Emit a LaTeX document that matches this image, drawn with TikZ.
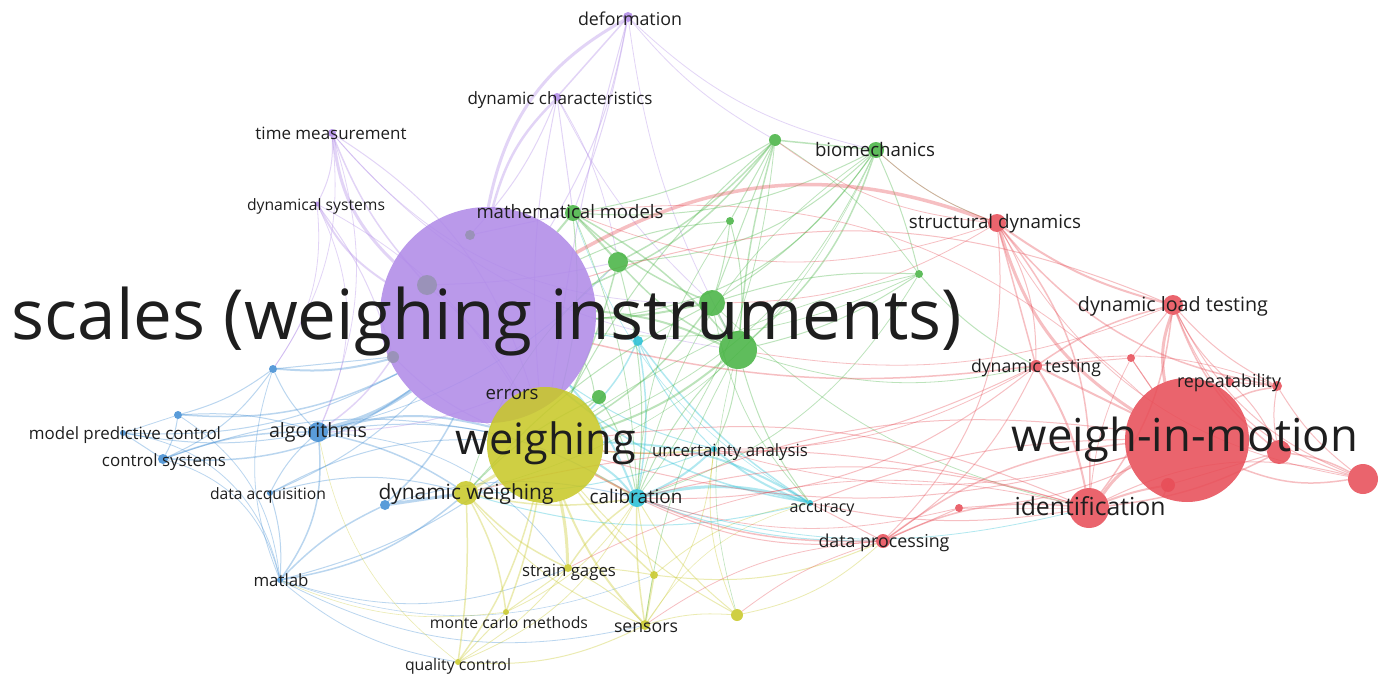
\documentclass[tikz,border=0pt]{standalone}
\usepackage{fontspec}
\setmainfont{Open Sans}
\usepackage{graphicx}
\definecolor{vp}{RGB}{176,138,232}
\definecolor{vy}{RGB}{200,200,40}
\definecolor{vg}{RGB}{72,180,68}
\definecolor{vc}{RGB}{40,192,214}
\definecolor{vb}{RGB}{66,142,212}
\definecolor{vr}{RGB}{232,78,88}
\definecolor{vgr}{RGB}{150,146,178}
\definecolor{txt}{RGB}{30,30,30}
\pgfdeclarelayer{bg}
\pgfdeclarelayer{edges}
\pgfsetlayers{bg,edges,main}
\newcommand{\vnode}[5]{\node[dot=#5,minimum size=#4pt] (#1) at (#2,#3) {};}
\newcommand{\vlabel}[5]{\node[lbl] (#1) at (#2,#3) {\resizebox{#4pt}{!}{\vphantom{dg}#5}};}
\begin{document}
\begin{tikzpicture}[x=1pt,y=-1pt,
  dot/.style={circle,inner sep=0pt,outer sep=0pt,fill=#1,draw=none,fill opacity=.87},
  lbl/.style={inner sep=0pt,text=txt,yshift=-2pt},
  ed/.style={draw=#1,opacity=.36}]
\begin{pgfonlayer}{bg}
\fill[white] (0,0) rectangle (1384,677);
\end{pgfonlayer}
\useasboundingbox (0,0) rectangle (1384,677);
% ---- purple cluster
\vnode{sc}{488}{315}{216}{vp}
\vnode{def}{628}{17}{10}{vp}
\vnode{dc}{557}{97}{8}{vp}
\vnode{tm}{332}{133}{8}{vp}
\vnode{ds}{317}{204}{5}{vp}
\vnode{gr1}{470}{235}{10}{vgr}
\vnode{gr2}{427}{285}{20}{vgr}
\vnode{gr3}{393}{357}{12}{vgr}
\vnode{err}{512}{393}{6}{vp}
% ---- yellow cluster
\vnode{wg}{545}{445}{116}{vy}
\vnode{dw}{466}{493}{24}{vy}
\vnode{sg}{568}{568}{8}{vy}
\vnode{mc}{506}{612}{6}{vy}
\vnode{sen}{645}{625}{10}{vy}
\vnode{qc}{458}{662}{6}{vy}
\vnode{y1}{654}{575}{8}{vy}
\vnode{y2}{737}{615}{12}{vy}
% ---- green cluster
\vnode{mm}{573}{213}{16}{vg}
\vnode{bio}{876}{150}{16}{vg}
\vnode{g1}{775}{140}{12}{vg}
\vnode{g2}{730}{221}{8}{vg}
\vnode{g3}{618}{262}{20}{vg}
\vnode{g4}{712}{303}{26}{vg}
\vnode{g5}{738}{350}{38}{vg}
\vnode{g6}{919}{274}{8}{vg}
\vnode{g7}{599}{397}{14}{vg}
% ---- cyan cluster
\vnode{cal}{637}{498}{18}{vc}
\vnode{c1}{638}{341}{10}{vc}
\vnode{unc}{714}{449}{6}{vc}
\vnode{acc}{810}{503}{6}{vc}
% ---- blue cluster
\vnode{alg}{318}{432}{20}{vb}
\vnode{mpc}{123}{433}{6}{vb}
\vnode{cs}{163}{459}{10}{vb}
\vnode{da}{270}{493}{6}{vb}
\vnode{mat}{280}{580}{6}{vb}
\vnode{b1}{273}{369}{8}{vb}
\vnode{b2}{178}{415}{8}{vb}
\vnode{b3}{385}{505}{10}{vb}
% ---- red cluster
\vnode{wim}{1187}{440}{124}{vr}
\vnode{id}{1089}{508}{40}{vr}
\vnode{sd}{997}{223}{18}{vr}
\vnode{dlt}{1173}{305}{20}{vr}
\vnode{dt}{1036}{366}{12}{vr}
\vnode{rep}{1230}{382}{8}{vr}
\vnode{r1}{1277}{386}{10}{vr}
\vnode{r2}{1131}{358}{8}{vr}
\vnode{r3}{1279}{452}{24}{vr}
\vnode{r4}{1363}{479}{30}{vr}
\vnode{r5}{1168}{485}{14}{vr}
\vnode{dp}{883}{541}{14}{vr}
\vnode{r6}{959}{508}{8}{vr}
% ---- edges
\begin{pgfonlayer}{edges}
\foreach \a/\b/\w/\bb in {def/sc/3/-25,def/dc/1.5/0,def/sc/1/10,def/wg/1/-4,def/g5/0.8/-10,def/bio/0.8/-15,
  dc/sc/2.5/-15,dc/wg/1/-8,dc/gr1/1/10,dc/g3/0.8/10,tm/sc/3/-20,tm/ds/1/15,tm/gr2/1.5/-10,tm/wg/1/20,
  tm/g5/0.8/-20,tm/alg/0.8/20,ds/sc/2/-15,ds/gr3/1/10,ds/wg/0.8/15,err/alg/1/10,gr2/wg/1/10,
  tm/g4/0.8/-25,dc/mm/1/0,dc/g4/0.8/-10,def/g1/0.8/-10,def/mm/1/5,tm/b1/0.8/20,ds/b1/0.8/20,ds/alg/0.8/25,
  gr1/mm/1/0,gr2/g3/1/-5,gr3/alg/1.5/10,gr3/wg/1/-10,err/wg/1/0}
  {\draw[ed=vp,line width=\w pt] (\a) to[bend left=\bb] (\b);}
\foreach \a/\b/\w/\bb in {alg/sc/3.5/-10,alg/wg/2/15,alg/mpc/1/10,alg/cs/1.5/-10,alg/da/1/-10,alg/mat/1.5/20,
  alg/dw/1.5/10,alg/b1/1/10,alg/b2/1/-10,b1/sc/2/-10,b1/cs/1/15,b1/b2/1/10,b1/mat/0.8/-20,b2/cs/1/10,
  b2/sc/1.5/-15,b2/mpc/0.8/0,mpc/cs/1/0,mpc/sc/1/-15,cs/sc/1.5/-20,cs/wg/1/15,cs/mat/0.8/30,da/mat/1/10,
  da/dw/1/15,da/sc/1/-10,mat/dw/1.5/-15,mat/b3/1.5/10,mat/sg/0.8/-20,mat/wg/1/-10,b3/dw/3/0,b3/sc/1.5/-10,
  b3/cal/1/15,mpc/mat/0.8/35,alg/cal/1/20,alg/sg/0.8/25,mat/sen/0.8/-20,mat/qc/0.8/-15,da/wg/1/15,
  b2/mat/0.8/25,alg/g3/0.8/-15,b1/gr3/1/0,mat/y1/0.6/-20}
  {\draw[ed=vb,line width=\w pt] (\a) to[bend left=\bb] (\b);}
\foreach \a/\b/\w/\bb in {wg/dw/3/0,wg/sg/3/5,wg/sen/2/-10,wg/qc/1.5/10,wg/mc/1.5/5,wg/cal/2/0,wg/unc/1.5/-5,
  wg/y1/1.5/-5,wg/y2/1/-10,dw/qc/1.5/5,dw/mc/1.5/10,dw/sen/1/-15,dw/sg/1.5/-10,dw/cal/1.5/-10,sg/sen/1/10,
  sg/y1/1/5,sg/mc/1/0,y1/sen/2/0,y1/dp/1/-15,y1/acc/0.8/15,y2/cal/1/10,y2/sen/0.8/-10,y2/unc/0.8/15,
  qc/mc/1/0,qc/sen/1/-15,qc/sg/0.8/-10,mc/cal/0.8/-15,sen/cal/1.5/5,sen/unc/0.8/-15,qc/cal/0.8/-20,
  sen/acc/0.6/20,y2/dp/0.8/-15,qc/alg/0.6/20,mc/mat/0.6/15,sg/cal/1.5/10,y1/cal/1/5}
  {\draw[ed=vy,line width=\w pt] (\a) to[bend left=\bb] (\b);}
\foreach \a/\b/\w/\bb in {cal/unc/2/-10,cal/acc/3/15,cal/sc/2/-10,cal/wg/2/-10,c1/wg/1.5/10,c1/cal/1.5/10,
  c1/unc/1/-10,c1/acc/1.5/-10,unc/acc/2/-10,acc/sc/1.5/15,unc/sc/1/10,acc/wg/2/-15,acc/dw/1/15,cal/dp/1/-10,
  cal/id/0.8/-15,c1/sc/1/0,unc/dw/1/10,acc/mm/0.6/20}
  {\draw[ed=vc,line width=\w pt] (\a) to[bend left=\bb] (\b);}
\foreach \a/\b/\w/\bb in {mm/sc/2/0,mm/g3/2/0,mm/g4/1.5/-10,mm/g5/1.5/10,mm/g1/1/-10,mm/bio/1/-15,bio/g1/1.5/0,
  bio/g5/1.5/15,bio/g4/1/10,bio/g3/1/20,bio/sc/1/25,bio/g6/1/5,bio/wg/0.8/20,g1/sc/1.5/15,g1/g3/1.5/10,
  g1/g5/1.5/-5,g1/g4/1/0,g1/wg/1/-10,g1/g2/1/0,g2/g4/1/5,g2/sc/1/-10,g2/g5/1/10,g2/cal/0.8/-15,g6/g5/1/10,
  g6/g4/1/-10,g6/dt/1/-10,g6/sc/0.8/15,g6/wg/0.8/-10,g3/wg/1.5/5,g3/g5/1.5/-10,g3/cal/1/10,g4/wg/1.5/10,
  g4/g5/2/0,g4/sc/2/5,g4/dw/1/-10,g5/wg/2/10,g5/sc/2/-10,g5/cal/1/-10,g5/sen/0.8/-10,g5/unc/1/10,
  g7/wg/1.5/0,g7/sc/1/-10,g7/cal/1/10,g5/dt/0.8/-15,g4/id/0.8/-15,
  mm/wg/1/10,mm/cal/0.8/10,bio/cal/0.8/-20,bio/dw/0.6/25,g1/cal/0.8/15,g6/cal/0.8/20,g7/dw/1/-10,
  g3/dw/0.8/-15,g4/acc/0.8/-15,g5/acc/1/-10,g5/y2/0.6/-15,bio/sd/0.8/-10,g1/g6/0.8/10}
  {\draw[ed=vg,line width=\w pt] (\a) to[bend left=\bb] (\b);}
\foreach \a/\b/\w/\bb in {wim/id/3/-10,wim/dlt/3/15,wim/sd/3/20,sd/sc/3.5/-25,wim/dt/2/0,wim/rep/1.5/10,
  wim/r1/1.5/10,wim/r3/2/0,wim/r4/1.5/-15,wim/dp/1.5/-15,wim/r5/1.5/0,wim/r2/1/0,wim/wg/1/15,dlt/dt/1.5/-10,
  dlt/id/1.5/15,dlt/r3/1.5/-15,dlt/r1/1/-10,dlt/sd/2/10,dlt/r4/1/-25,dt/id/2/10,dt/sc/1.5/10,dt/dp/1/15,
  dt/sd/1/-15,dt/wg/1/15,id/dp/1.5/-15,id/r6/1/0,id/r5/2/5,id/r3/1.5/-10,id/wg/1/-15,id/cal/1/-15,
  dp/r6/1/0,dp/wg/1.5/15,dp/cal/1/15,dp/acc/1/0,r6/wim/1/-10,r2/wim/1/0,r2/dt/1/0,rep/r1/1/0,rep/r3/1/10,
  r4/r3/1.5/-10,r4/dlt/1/20,r1/r3/1/-10,sd/id/1.5/20,sd/dt/1.5/0,sd/bio/0.8/10,sd/g1/0.8/15,sd/dp/1/25,
  id/dw/1/-15,id/sg/0.8/-20,wim/cal/1/-15,wim/unc/0.8/15,dt/cal/1/20,dt/unc/0.8/15,sd/g4/0.8/15,
  sd/mm/0.8/20,dlt/g5/0.8/15,dlt/sc/1/-20,wim/mm/0.8/-25,dp/sen/0.8/-15,dp/y2/0.8/-10,r6/cal/0.8/15,
  id/acc/1/10,wim/acc/1/-10,r2/dlt/1/0,r2/id/0.8/-10,r4/r1/1/10,r4/id/1/-20,r3/r5/1/0,rep/dlt/1/10,
  r1/dt/0.8/-15,sd/r1/1.5/-20,sd/r4/0.8/-25}
  {\draw[ed=vr,line width=\w pt] (\a) to[bend left=\bb] (\b);}
\end{pgfonlayer}
% ---- labels
\vlabel{Lsc}{487}{320}{950}{scales (weighing instruments)}
\vlabel{Ldef}{630}{19}{104}{deformation}
\vlabel{Ldc}{560}{98}{185}{dynamic characteristics}
\vlabel{Ltm}{331}{133}{151}{time measurement}
\vlabel{Lds}{316}{204}{138}{dynamical systems}
\vlabel{Lerr}{512}{393}{53}{errors}
\vlabel{Lwg}{546}{441}{180}{weighing}
\vlabel{Ldw}{466}{492}{175}{dynamic weighing}
\vlabel{Lsg}{569}{570}{94}{strain gages}
\vlabel{Lmc}{509}{622}{158}{monte carlo methods}
\vlabel{Lsen}{646}{626}{64}{sensors}
\vlabel{Lqc}{458}{664}{106}{quality control}
\vlabel{Lmm}{570}{212}{187}{mathematical models}
\vlabel{Lbio}{875}{150}{120}{biomechanics}
\vlabel{Lunc}{730}{450}{156}{uncertainty analysis}
\vlabel{Lcal}{636}{497}{93}{calibration}
\vlabel{Lacc}{822}{506}{65}{accuracy}
\vlabel{Lalg}{318}{430}{98}{algorithms}
\vlabel{Lmpc}{125}{433}{192}{model predictive control}
\vlabel{Lcs}{164}{460}{124}{control systems}
\vlabel{Lda}{268}{493}{116}{data acquisition}
\vlabel{Lmat}{281}{580}{55}{matlab}
\vlabel{Lwim}{1185}{438}{346}{weigh-in-motion}
\vlabel{Lid}{1090}{507}{151}{identification}
\vlabel{Lsd}{995}{222}{172}{structural dynamics}
\vlabel{Ldlt}{1173}{304}{190}{dynamic load testing}
\vlabel{Ldt}{1036}{366}{130}{dynamic testing}
\vlabel{Lrep}{1229}{381}{104}{repeatability}
\vlabel{Ldp}{884}{541}{131}{data processing}
\end{tikzpicture}
\end{document}
